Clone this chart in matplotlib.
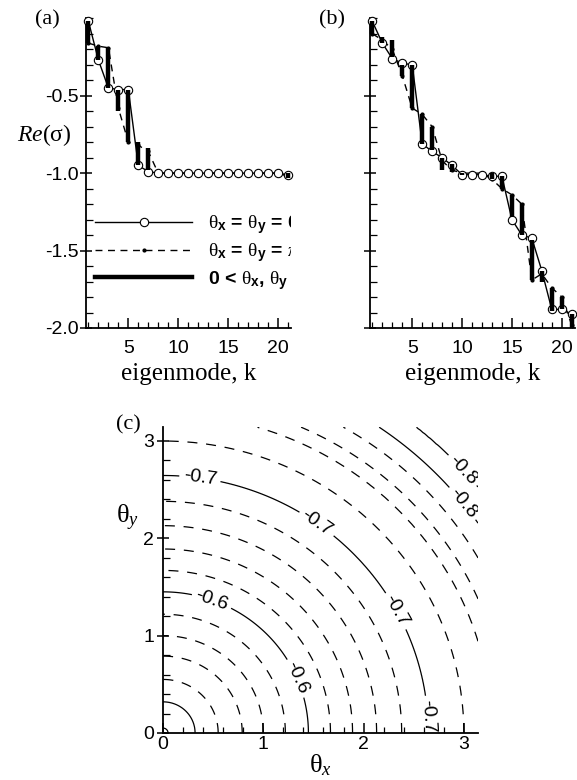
import numpy as np
import matplotlib
matplotlib.use("Agg")
import matplotlib.pyplot as plt
from matplotlib.ticker import MultipleLocator, FixedLocator

plt.rcParams['font.family'] = 'Liberation Sans'
plt.rcParams['mathtext.fontset'] = 'custom'
plt.rcParams['mathtext.rm'] = 'Liberation Serif'
plt.rcParams['mathtext.it'] = 'Liberation Serif:italic'
plt.rcParams['mathtext.bf'] = 'Liberation Sans:bold'

# ---------------- data ----------------
k = np.arange(1, 22)

# panel (a)
a_zero = [-0.02, -0.27, -0.45, -0.46, -0.46, -0.95, -0.99, -1.0, -1.0, -1.0, -1.0,
          -1.0, -1.0, -1.0, -1.0, -1.0, -1.0, -1.0, -1.0, -1.0, -1.01]
a_pi = [-0.16, -0.18, -0.19, -0.58, -0.80, -0.82, -0.86, -1.0, -1.0, -1.0, -1.0,
        -1.0, -1.0, -1.0, -1.0, -1.0, -1.0, -1.0, -1.0, -1.0, -1.02]
a_mid_hi = [-0.02, -0.18, -0.19, -0.46, -0.46, -0.80, -0.84, -1.0, -1.0, -1.0, -1.0,
            -1.0, -1.0, -1.0, -1.0, -1.0, -1.0, -1.0, -1.0, -1.0, -1.0]
a_mid_lo = [-0.16, -0.27, -0.45, -0.60, -0.80, -0.95, -0.98, -1.0, -1.0, -1.0, -1.0,
            -1.0, -1.0, -1.0, -1.0, -1.0, -1.0, -1.0, -1.0, -1.0, -1.03]

# panel (b)
b_zero = [-0.02, -0.16, -0.26, -0.29, -0.30, -0.81, -0.86, -0.90, -0.95, -1.01, -1.01,
          -1.01, -1.02, -1.02, -1.30, -1.40, -1.42, -1.63, -1.88, -1.88, -1.91]
b_pi = [-0.10, -0.14, -0.20, -0.37, -0.58, -0.62, -0.70, -0.92, -0.98, -1.0, -1.0,
        -1.0, -1.04, -1.10, -1.14, -1.20, -1.69, -1.65, -1.74, -1.80, -1.98]
b_mid_hi = [-0.02, -0.12, -0.14, -0.30, -0.30, -0.62, -0.70, -0.90, -0.94, -1.0, -1.01,
            -1.01, -1.0, -1.02, -1.14, -1.19, -1.43, -1.63, -1.74, -1.80, -1.91]
b_mid_lo = [-0.10, -0.16, -0.25, -0.37, -0.58, -0.81, -0.85, -0.98, -0.99, -1.01, -1.01,
            -1.01, -1.04, -1.10, -1.28, -1.40, -1.69, -1.70, -1.89, -1.88, -2.0]

# panel (c): contour level vs. radius sqrt(theta_x^2 + theta_y^2) where it is crossed
radius_read = [0.0, 0.05, 0.32, 0.55, 0.79, 1.00, 1.22, 1.45, 1.67, 1.89, 2.13,
               2.38, 2.645, 3.0, 3.28, 3.43, 3.62, 3.81, 3.92, 4.03, 4.45]
level_read = [-0.475, -0.48, -0.50, -0.52, -0.54, -0.56, -0.58, -0.60, -0.62, -0.64, -0.66,
              -0.68, -0.70, -0.72, -0.74, -0.76, -0.78, -0.80, -0.81, -0.80, -0.795]
solid_levels = [-0.8, -0.7, -0.6, -0.5]
dashed_levels = [-0.78, -0.76, -0.74, -0.72, -0.68, -0.66, -0.64, -0.62,
                 -0.58, -0.56, -0.54, -0.52, -0.48]

leg_labels = [r'$\mathrm{\theta}_\mathbf{x}$ = $\mathrm{\theta}_\mathbf{y}$ = 0',
              r'$\mathrm{\theta}_\mathbf{x}$ = $\mathrm{\theta}_\mathbf{y}$ = $\pi$',
              r'0 < $\mathrm{\theta}_\mathbf{x}$, $\mathrm{\theta}_\mathbf{y}$ < $\pi$']

serif = 'Liberation Serif'
tick_fs = 14

fig = plt.figure(figsize=(5.77, 7.80), dpi=100)
ax_a = fig.add_axes([0.149, 0.5795, 0.355, 0.397])
ax_b = fig.add_axes([0.641, 0.5795, 0.355, 0.397])
ax_c = fig.add_axes([0.2825, 0.0603, 0.546, 0.392])


def style_axes(ax):
    for s in ['top', 'right']:
        ax.spines[s].set_visible(False)
    for s in ['left', 'bottom']:
        ax.spines[s].set_linewidth(1.3)
    ax.tick_params(axis='y', which='major', direction='inout', length=9, width=1.1,
                   labelsize=tick_fs, pad=1)
    ax.tick_params(axis='y', which='minor', direction='in', length=5, width=0.9)
    ax.tick_params(axis='x', which='major', direction='in', length=7, width=1.1,
                   labelsize=tick_fs)
    ax.tick_params(axis='x', which='minor', direction='in', length=4, width=0.9)


for ax, zero, pi_, hi, lo in [(ax_a, a_zero, a_pi, a_mid_hi, a_mid_lo),
                              (ax_b, b_zero, b_pi, b_mid_hi, b_mid_lo)]:
    l1, = ax.plot(k, zero, '-', color='k', lw=1.0, marker='o', ms=6,
                  mfc='white', mec='k', mew=0.8, zorder=3, clip_on=False)
    l2, = ax.plot(k, pi_, color='k', lw=1.0, ls=(0, (5, 4)), marker='o', ms=2,
                  mfc='k', mec='k', zorder=2, clip_on=False)
    ax.vlines(k, lo, hi, color='k', lw=3.2, zorder=4, clip_on=False)
    l3, = ax.plot([], [], '-', color='k', lw=3.2)
    ax.set_xlim(0.75, 21.3)
    ax.set_ylim(-2.0, 0.0)
    ax.yaxis.set_major_locator(FixedLocator([-2.0, -1.5, -1.0, -0.5]))
    ax.yaxis.set_minor_locator(MultipleLocator(0.1))
    ax.xaxis.set_major_locator(FixedLocator([5, 10, 15, 20]))
    ax.xaxis.set_minor_locator(MultipleLocator(1))
    style_axes(ax)
    ax.tick_params(axis='x', which='major', pad=9)
    ax.set_xlabel('eigenmode, k', fontfamily=serif, fontsize=18, labelpad=4)
    ax.yaxis.set_major_formatter(plt.FormatStrFormatter('%.1f'))

ax_b.tick_params(axis='y', labelleft=False)

leg = ax_a.legend([l1, l2, l3], leg_labels, loc='center left',
                  bbox_to_anchor=(0.045, 0.243), frameon=False,
                  prop={'weight': 'bold', 'size': 14}, handlelength=5.0,
                  handletextpad=0.8, labelspacing=0.25, borderpad=0,
                  borderaxespad=0)
for t in leg.get_texts():
    t.set_clip_box(ax_a.bbox)
    t.set_clip_on(True)

fig.text(44 / 577, 1 - 135 / 780, r'$Re(\mathrm{\sigma})$', fontsize=17,
         ha='center', va='center')
fig.text(47 / 577, 1 - 20 / 780, '(a)', fontfamily=serif, fontsize=16,
         ha='center', va='center')
fig.text(332 / 577, 1 - 20 / 780, '(b)', fontfamily=serif, fontsize=16,
         ha='center', va='center')
fig.text(128 / 577, 1 - 425 / 780, '(c)', fontfamily=serif, fontsize=16,
         ha='center', va='center')

# ---------------- panel (c) ----------------
th = np.linspace(0, np.pi, 401)
TX, TY = np.meshgrid(th, th)
field = np.interp(np.hypot(TX, TY), radius_read, level_read)

ax_c.contour(TX, TY, field, levels=dashed_levels, colors='k', linewidths=0.9,
             linestyles=[(0, (8, 7))])
cs = ax_c.contour(TX, TY, field, levels=solid_levels, colors='k', linewidths=0.9,
                  linestyles='solid')
ax_c.clabel(cs, levels=[-0.8, -0.7, -0.6], fmt='%.1f', fontsize=14,
            inline=True, inline_spacing=4,
            manual=[(0.37, 2.63), (1.54, 2.16), (2.32, 1.25), (2.64, 0.17),
                    (0.49, 1.37), (1.37, 0.58), (2.99, 2.36), (2.99, 2.70)])

ax_c.set_xlim(0, np.pi)
ax_c.set_ylim(0, np.pi)
ax_c.xaxis.set_major_locator(MultipleLocator(1))
ax_c.xaxis.set_minor_locator(MultipleLocator(0.2))
ax_c.yaxis.set_major_locator(MultipleLocator(1))
ax_c.yaxis.set_minor_locator(MultipleLocator(0.2))
style_axes(ax_c)
ax_c.tick_params(axis='x', which='major', pad=2)
ax_c.tick_params(axis='y', which='major', pad=2)
ax_c.set_xlabel(r'$\mathrm{\theta}_x$', fontsize=19, labelpad=0)
fig.text(128 / 577, 1 - 518 / 780, r'$\mathrm{\theta}_y$', fontsize=19,
         ha='center', va='center')

fig.savefig('out.png', dpi=100)
